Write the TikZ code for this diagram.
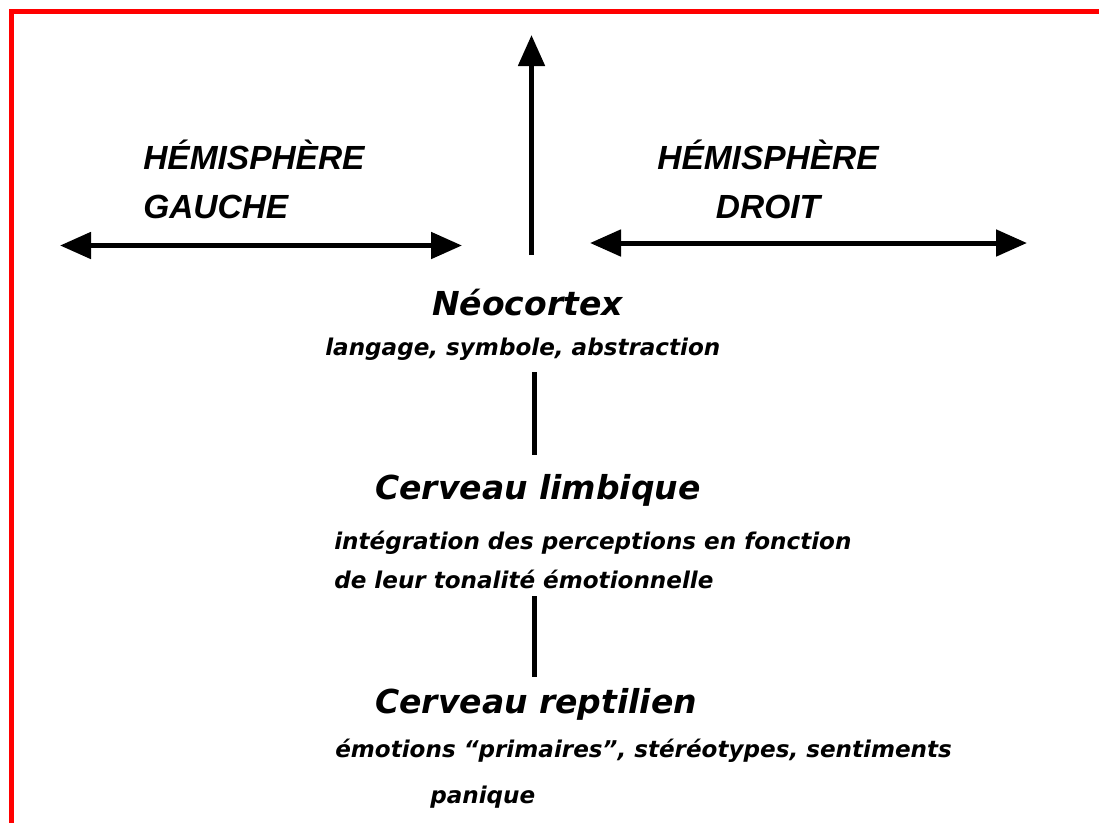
\documentclass[tikz,border=0pt]{standalone}
\usepackage{fontspec}
\usetikzlibrary{arrows.meta}
\newfontfamily\dvfont{DejaVu Sans}
\newfontfamily\libfont{Liberation Sans}
\tikzset{
  frame/.style={draw=red, line width=3.75pt},
  conn/.style={line width=3.75pt},
  bigtip/.style={-{Triangle[length=23.25pt,width=19.5pt]}},
  dbltip/.style={{Triangle[length=23.25pt,width=19.5pt]}-{Triangle[length=23.25pt,width=19.5pt]}},
  hemi/.style={inner sep=0pt, font=\libfont\bfseries\itshape\fontsize{25.1pt}{36.75pt}\selectfont},
  title/.style={inner sep=0pt, anchor=base west, font=\dvfont\bfseries\itshape\fontsize{24.75pt}{30pt}\selectfont},
  sub/.style={inner sep=0pt, anchor=base west, font=\dvfont\bfseries\itshape\fontsize{17.3pt}{22pt}\selectfont},
}
\begin{document}
\begin{tikzpicture}[x=0.75pt,y=-0.75pt]
\useasboundingbox (0,0) rectangle (1099,822);
\clip (0,0) rectangle (1099,822);
\fill[white] (0,0) rectangle (1099,822);
\draw[frame] (11.5,11.5) rectangle (1120,840);

% hemisphere labels
\node[hemi, anchor=base west, align=left] (hg) at (143,218) {HÉMISPHÈRE\\GAUCHE};
\node[hemi, anchor=base, align=center] (hd) at (768,218) {HÉMISPHÈRE\\DROIT};

% arrows
\coordinate (gl) at (60,245.5);
\coordinate (gr) at (462,245.5);
\coordinate (dl) at (590,243);
\coordinate (dr) at (1027,243);
\coordinate (vb) at (531.5,255);
\coordinate (vt) at (531.5,35);
\draw[conn, dbltip] (gl) -- (gr);
\draw[conn, dbltip] (dl) -- (dr);
\draw[conn, bigtip] (vb) -- (vt);

% levels
\node[title] (neo) at (432,315) {Néocortex};
\node[sub] (neosub) at (325,355) {langage, symbole, abstraction};
\node[title] (limb) at (375,499) {Cerveau limbique};
\node[sub] (limbsub1) at (334,549) {intégration des perceptions en fonction};
\node[sub] (limbsub2) at (334,588) {de leur tonalité émotionnelle};
\node[title] (rept) at (375,713) {Cerveau reptilien};
\node[sub] (reptsub1) at (335,757) {émotions “primaires”, stéréotypes, sentiments};
\node[sub] (reptsub2) at (430,803) {panique};

\coordinate (l1t) at (534,372);
\coordinate (l1b) at (534,455);
\coordinate (l2t) at (534,596);
\coordinate (l2b) at (534,677);
\draw[conn] (l1t) -- (l1b);
\draw[conn] (l2t) -- (l2b);
\end{tikzpicture}
\end{document}
